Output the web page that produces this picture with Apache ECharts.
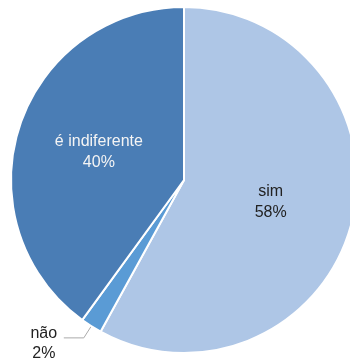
<!DOCTYPE html>
<html>
<head>
<meta charset="utf-8">
<script src="https://cdn.jsdelivr.net/npm/echarts@6/dist/echarts.min.js"></script>
<style>
  html, body { margin: 0; padding: 0; background: #fff; }
  #chart { width: 350px; height: 362px; }
</style>
</head>
<body>
<div id="chart"></div>
<script>
// Answer categories and their shares (%)
var categories = ['sim', 'não', 'é indiferente'];
var values = [58, 2, 40];
var colors = ['#aec6e6', '#5a9bd5', '#4a7db5'];

var textFont = '"Liberation Sans", Arial, Helvetica, sans-serif';

var insideLabel = function (color) {
  return {
    show: true,
    position: 'inside',
    formatter: '{b}\n{d}%',
    color: color,
    fontSize: 16,
    lineHeight: 21,
    fontFamily: textFont
  };
};

var data = categories.map(function (name, i) {
  var item = { name: name, value: values[i], itemStyle: { color: colors[i] } };
  if (i === 0) item.label = insideLabel('#222');
  if (i === 2) item.label = insideLabel('#f4f4f4');
  if (i === 1) {
    item.label = {
      show: true,
      position: 'outside',
      distanceToLabelLine: 4,
      formatter: '{t|{b}\n{d}%}',
      padding: [12, 0, 0, 0],
      rich: { t: { width: 32, align: 'center', fontSize: 16, lineHeight: 20, color: '#222', fontFamily: textFont } }
    };
    item.labelLine = { show: true, length: 14, length2: 20, lineStyle: { color: '#aaa', width: 1 } };
  }
  return item;
});

var chart = echarts.init(document.getElementById('chart'));
chart.setOption({
  animation: false,
  series: [{
    type: 'pie',
    center: [184, 180],
    radius: 173,
    startAngle: 90,
    clockwise: true,
    avoidLabelOverlap: false,
    itemStyle: { borderColor: '#fff', borderWidth: 2 },
    labelLine: { show: false },
    data: data
  }]
});
</script>
</body>
</html>
